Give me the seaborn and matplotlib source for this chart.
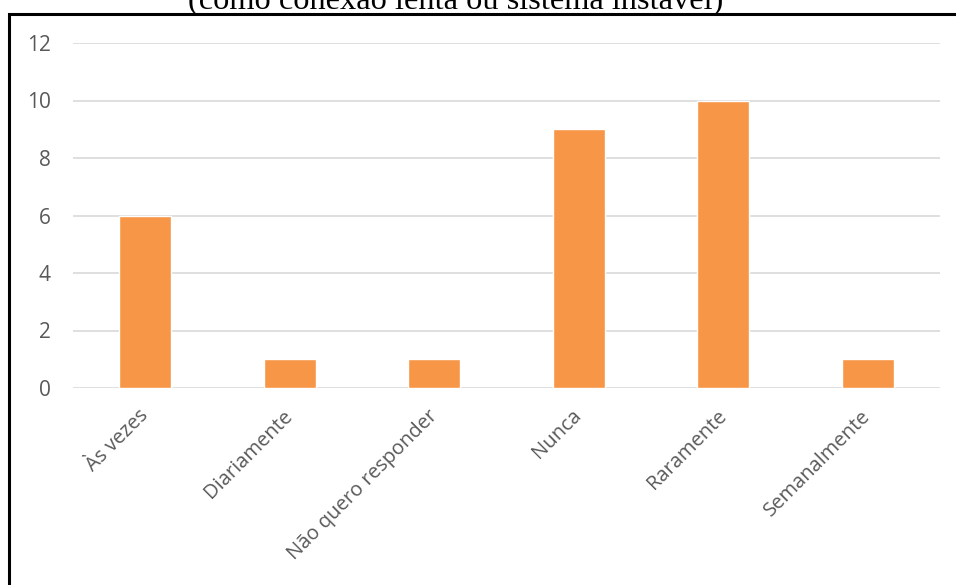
import matplotlib
matplotlib.use("Agg")
import matplotlib.pyplot as plt
from matplotlib.patches import Rectangle
import seaborn as sns

# Data
categories = ["Às vezes", "Diariamente", "Não quero responder", "Nunca", "Raramente", "Semanalmente"]
values = [6, 1, 1, 9, 10, 1]
y_ticks = [0, 2, 4, 6, 8, 10, 12]

sns.set_style("white")
plt.rcParams['font.family'] = ['Open Sans', 'DejaVu Sans']

W, H = 956, 585
fig = plt.figure(figsize=(W / 100, H / 100), dpi=100)
ax = fig.add_axes([73 / W, 1 - 388 / H, (940 - 73) / W, 345 / H])

sns.barplot(x=categories, y=values, color="#F79646", saturation=1, width=0.36, ax=ax)

ax.set_xlim(-0.5, len(categories) - 0.5)
ax.set_ylim(0, 12)
ax.set_yticks(y_ticks)
ax.yaxis.grid(True, color="#D9D9D9", lw=1.2)
ax.set_axisbelow(True)
for s in ax.spines.values():
    s.set_visible(False)
ax.tick_params(axis="both", length=0, labelcolor="#595959")
ax.tick_params(axis="y", pad=16, labelsize=15)
ax.tick_params(axis="x", pad=18, labelsize=14.5)
for lab in ax.get_xticklabels():
    lab.set_rotation(45)
    lab.set_ha("right")
    lab.set_va("center")
    lab.set_rotation_mode("anchor")
ax.set_xlabel("")
ax.set_ylabel("")

# title partly cut off at the top of the image
fig.text(456 / W, 1 - 9 / H, "(como conexão lenta ou sistema instável)",
         family="Liberation Serif", fontsize=23.3, ha="center", va="baseline", color="black")

# black frame around the chart
fig.patches.append(Rectangle((9 / W, -0.1), 1.2, 1.1 - 14 / H, transform=fig.transFigure,
                             fill=False, lw=2.2, edgecolor="black"))

fig.savefig("out.png", dpi=100)
